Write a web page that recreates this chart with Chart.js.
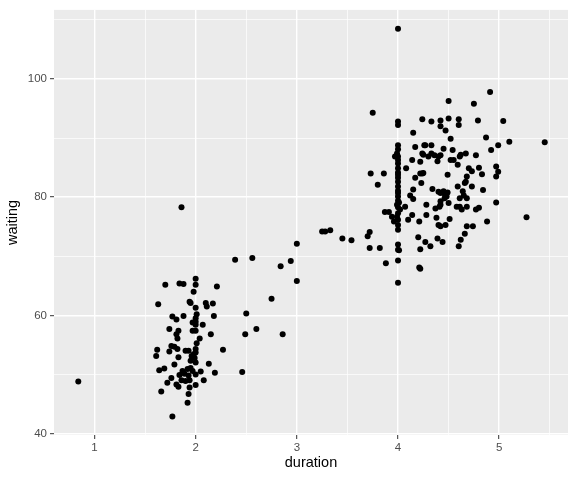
<!DOCTYPE html>
<html>
<head>
<meta charset="utf-8">
<script src="https://cdn.jsdelivr.net/npm/chart.js@4/dist/chart.umd.min.js"></script>
<style>
  html, body { margin: 0; padding: 0; background: #ffffff; }
  #wrap { width: 576px; height: 480px; position: relative; }
</style>
</head>
<body>
<div id="wrap"><canvas id="geyserChart" width="576" height="480"></canvas></div>
<script>
// Valores: duración (min) y espera (min), emparejados por índice
const duration = [
  0.84, 1.86, 2.39, 2.56, 2.00, 1.70, 1.84, 1.88, 2.00, 2.21,
  1.98, 1.63, 1.94, 1.95, 2.00, 2.10, 2.11, 2.17, 2.01, 1.77,
  1.81, 1.88, 2.18, 1.97, 2.00, 2.00, 2.07, 1.74, 1.83, 1.81,
  1.97, 2.00, 2.15, 1.82, 2.04, 2.01, 1.76, 1.79, 1.82, 1.62,
  1.61, 1.74, 1.90, 1.93, 2.00, 2.00, 2.27, 1.83, 1.96, 1.99,
  1.95, 2.00, 2.13, 1.79, 1.64, 1.69, 1.87, 1.92, 1.95, 1.97,
  2.05, 2.19, 1.84, 1.89, 1.93, 1.76, 1.86, 1.90, 1.94, 2.08,
  1.72, 1.81, 1.83, 1.94, 2.00, 1.66, 1.93, 1.92, 1.77, 2.50,
  2.60, 2.49, 2.46, 3.00, 3.25, 3.28, 3.33, 3.45, 3.54, 2.84,
  2.94, 3.00, 2.75, 2.86, 2.00, 1.98, 2.00,
  // erupciones largas
  3.70, 3.72, 3.72, 3.82, 4.00, 3.75, 4.50, 4.00, 4.00, 4.24,
  4.33, 4.42, 4.42, 4.50, 4.60, 4.60, 4.47, 4.15, 4.52, 4.91,
  4.75, 4.79, 5.04, 4.87, 4.99, 4.92, 5.10, 5.45,
  4.00, 4.00, 3.99, 3.97, 4.00, 4.17, 4.26, 4.27, 4.33, 4.45,
  4.54, 4.25, 4.30, 4.36, 4.42, 4.14, 4.22, 4.39, 4.52, 4.55,
  4.61, 4.24, 4.33, 4.40, 4.62, 4.67, 4.77,
  4.00, 4.00, 4.00, 4.00, 4.00, 4.00, 4.00, 4.00, 4.00, 4.00,
  4.01, 3.99, 4.02, 4.00, 3.99, 4.00, 4.00, 4.00, 4.00, 4.00,
  4.01, 4.00, 4.00, 4.00, 4.00, 4.00,
  3.73, 3.86, 3.80, 3.87, 3.91, 3.94, 3.96, 3.88,
  4.70, 4.73, 4.80, 4.97, 4.99, 4.97, 4.83, 4.68, 4.67, 4.66,
  4.73, 4.84, 4.64, 4.65, 4.61, 4.68, 4.97, 4.59, 4.59,
  4.08, 4.17, 4.22, 4.24, 4.25, 4.23, 4.15, 4.34, 4.40, 4.46,
  4.48, 4.46, 4.12, 4.15, 4.49, 4.42, 4.42, 4.50, 4.49, 4.42,
  4.45,
  4.07, 4.14, 4.10, 4.21, 4.28, 4.37, 4.41, 4.38, 4.40, 4.42,
  4.47, 4.51, 4.61, 4.63, 4.68, 4.68, 4.58, 4.77, 4.80, 5.27,
  4.88, 4.74, 4.28,
  4.66, 4.62, 4.60, 4.20, 4.27, 4.32, 4.22, 4.39, 4.44,
  4.21, 4.22
];
const waiting = [
  48.8, 78.3, 69.4, 69.7, 66.2, 65.2, 65.4, 65.3, 65.2, 64.9,
  64.0, 61.9, 62.3, 62.1, 61.3, 62.1, 61.5, 62.0, 60.2, 59.8,
  59.3, 59.9, 59.9, 58.8, 58.9, 58.4, 58.4, 57.7, 57.4, 56.8,
  57.4, 57.4, 56.8, 56.1, 56.1, 55.3, 54.8, 54.7, 54.3, 54.2,
  53.1, 53.9, 54.0, 54.0, 54.3, 53.7, 54.2, 52.9, 53.1, 52.8,
  52.3, 52.0, 51.8, 51.7, 50.7, 51.0, 50.6, 50.9, 51.1, 50.6,
  50.5, 50.3, 49.9, 50.1, 49.8, 49.4, 49.0, 48.9, 49.0, 49.0,
  48.6, 48.3, 47.9, 47.8, 48.2, 47.1, 46.7, 45.2, 42.9, 60.3,
  57.7, 56.8, 50.4, 72.1, 74.2, 74.2, 74.4, 73.0, 72.7, 68.3,
  69.2, 65.8, 62.8, 56.8, 50.0, 53.4, 59.5,
  // erupciones largas
  73.4, 74.1, 71.4, 71.4, 108.5, 94.3, 96.3, 92.8, 92.2, 93.2,
  92.8, 93.0, 92.0, 93.3, 93.2, 92.2, 91.3, 90.9, 89.9, 97.8,
  95.8, 93.0, 92.9, 90.1, 88.8, 88.0, 89.4, 89.3,
  88.8, 88.1, 87.4, 86.9, 86.9, 88.5, 88.8, 88.8, 88.8, 88.2,
  88.0, 87.2, 86.9, 87.1, 87.1, 86.3, 86.0, 86.1, 86.3, 86.3,
  86.9, 87.4, 87.4, 86.9, 87.2, 87.4, 87.1,
  85.7, 84.9, 84.2, 83.3, 82.6, 81.8, 81.1, 80.1, 79.4, 80.7,
  79.1, 78.7, 77.9, 77.3, 76.7, 76.2, 75.3, 74.5, 72.0, 71.1,
  71.0, 69.3, 65.5, 78.3, 83.8, 86.3,
  84.0, 84.0, 82.1, 77.5, 77.5, 76.7, 75.9, 68.8,
  84.9, 84.4, 85.0, 85.2, 84.3, 83.5, 83.9, 83.5, 82.6, 82.4,
  81.8, 81.2, 81.0, 80.3, 79.8, 79.8, 79.1, 85.5, 81.8,
  84.9, 83.3, 84.0, 84.0, 84.1, 82.4, 81.3, 81.4, 80.9, 80.6,
  80.1, 79.8, 80.3, 79.7, 83.8, 79.3, 78.7, 79.0, 80.8, 80.7,
  81.0,
  78.4, 77.0, 76.2, 75.9, 78.7, 78.1, 78.4, 76.5, 75.3, 75.1,
  75.3, 76.3, 78.4, 77.9, 78.4, 75.1, 78.4, 77.9, 78.2, 76.6,
  75.9, 75.1, 77.0,
  73.8, 72.8, 71.7, 73.2, 72.4, 71.7, 71.2, 73.0, 72.4,
  68.1, 67.9
];

// Rejilla: cortes mayores con etiqueta, menores sin ella
const xTicks = [1, 2, 3, 4, 5];
const xMinor = [1.5, 2.5, 3.5, 4.5, 5.5];
const yTicks = [40, 60, 80, 100];
const yMinor = [50, 70, 90, 110];

const points = duration.map((d, i) => ({ x: d, y: waiting[i] }));

// Fondo gris del panel estilo ggplot
const panelBg = {
  id: 'panelBg',
  beforeDraw(chart) {
    const { ctx, chartArea } = chart;
    ctx.save();
    ctx.fillStyle = '#EBEBEB';
    ctx.fillRect(chartArea.left, chartArea.top, chartArea.right - chartArea.left, chartArea.bottom - chartArea.top);
    ctx.restore();
  }
};

const isMajor = (list, v) => list.some(t => Math.abs(t - v) < 1e-6);

new Chart(document.getElementById('geyserChart'), {
  type: 'scatter',
  data: {
    datasets: [{
      data: points,
      backgroundColor: '#000000',
      borderWidth: 0,
      pointRadius: 3,
      pointHoverRadius: 3
    }]
  },
  options: {
    responsive: false,
    animation: false,
    layout: { padding: { left: 4, right: 8, top: 7, bottom: 1 } },
    plugins: { legend: { display: false }, tooltip: { enabled: false } },
    scales: {
      x: {
        type: 'linear',
        min: 0.6,
        max: 5.68,
        afterBuildTicks(scale) {
          scale.ticks = [...xTicks, ...xMinor].sort((a, b) => a - b).map(v => ({ value: v }));
        },
        afterFit(scale) { scale.height = 44; },
        border: { display: false },
        grid: {
          color: '#FFFFFF',
          lineWidth: c => isMajor(xTicks, c.tick.value) ? 1.4 : 0.7,
          tickColor: c => isMajor(xTicks, c.tick.value) ? '#333333' : 'rgba(0,0,0,0)',
          tickLength: 4,
          tickWidth: 1
        },
        ticks: {
          autoSkip: false,
          maxRotation: 0,
          padding: 2,
          color: '#4D4D4D',
          font: { family: "'Liberation Sans', Arial, sans-serif", size: 11.5 },
          callback: v => isMajor(xTicks, v) ? String(v) : ''
        },
        title: {
          display: true,
          text: 'duration',
          color: '#000000',
          padding: { top: 0, bottom: 7 },
          font: { family: "'Liberation Sans', Arial, sans-serif", size: 14.5 }
        }
      },
      y: {
        type: 'linear',
        min: 39.75,
        max: 111.7,
        afterBuildTicks(scale) {
          scale.ticks = [...yTicks, ...yMinor].sort((a, b) => a - b).map(v => ({ value: v }));
        },
        afterFit(scale) { scale.width = 50; },
        border: { display: false },
        grid: {
          color: '#FFFFFF',
          lineWidth: c => isMajor(yTicks, c.tick.value) ? 1.4 : 0.7,
          tickColor: c => isMajor(yTicks, c.tick.value) ? '#333333' : 'rgba(0,0,0,0)',
          tickLength: 4,
          tickWidth: 1
        },
        ticks: {
          autoSkip: false,
          padding: 3,
          color: '#4D4D4D',
          font: { family: "'Liberation Sans', Arial, sans-serif", size: 11.5 },
          callback: v => isMajor(yTicks, v) ? String(v) : ''
        },
        title: {
          display: true,
          text: 'waiting',
          color: '#000000',
          padding: { top: 0, bottom: 4 },
          font: { family: "'Liberation Sans', Arial, sans-serif", size: 14.5 }
        }
      }
    }
  },
  plugins: [panelBg]
});
</script>
</body>
</html>
